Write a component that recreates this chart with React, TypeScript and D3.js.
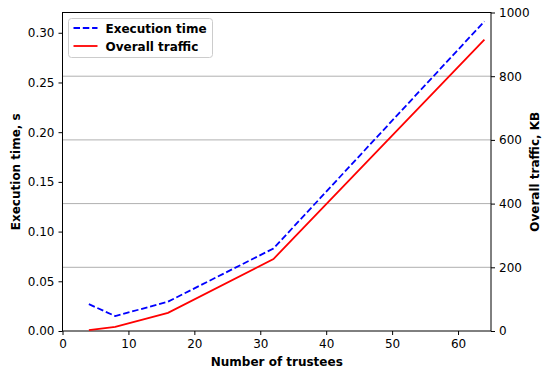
import React, { useEffect, useRef } from 'react';
import * as d3 from 'd3';

// trustees on the x axis
const trustees = [4, 8, 16, 32, 64];
// execution time, s (left axis)
const execTime = [0.027, 0.015, 0.0295, 0.083, 0.3115];
// overall traffic, KB (right axis)
const traffic = [3, 13, 57, 226, 915];

const xTicks = [0, 10, 20, 30, 40, 50, 60];
const leftTicks = [0, 0.05, 0.1, 0.15, 0.2, 0.25, 0.3];
const rightTicks = [0, 200, 400, 600, 800, 1000];

const W = 542;
const H = 372;
const margin = { left: 62.5, right: 51, top: 12.5, bottom: 41 };
const font = 'DejaVu Sans, sans-serif';

const App = () => {
    const ref = useRef<SVGSVGElement>(null);

    useEffect(() => {
        const svg = d3.select(ref.current);
        svg.selectAll('*').remove();

        const x0 = margin.left;
        const x1 = W - margin.right;
        const y0 = H - margin.bottom;
        const y1 = margin.top;

        const x = d3.scaleLinear().domain([0, 65]).range([x0, x1]);
        const yL = d3.scaleLinear().domain([0, 0.3204]).range([y0, y1]);
        const yR = d3.scaleLinear().domain([0, 1000]).range([y0, y1]);

        // grid from the right axis
        svg.append('g')
            .selectAll('line')
            .data(rightTicks.slice(1, -1))
            .join('line')
            .attr('x1', x0).attr('x2', x1)
            .attr('y1', d => yR(d)).attr('y2', d => yR(d))
            .attr('stroke', '#b0b0b0').attr('stroke-width', 1);

        const styleAxis = (g: any) => {
            g.select('.domain').remove();
            g.selectAll('text').attr('font-family', font).attr('font-size', 12).attr('fill', '#000');
            g.selectAll('line').attr('stroke', '#000').attr('stroke-width', 1);
        };

        svg.append('g')
            .attr('transform', `translate(0,${y0})`)
            .call(d3.axisBottom(x).tickValues(xTicks).tickFormat(d3.format('d')).tickSize(4).tickPadding(4))
            .call(styleAxis);

        svg.append('g')
            .attr('transform', `translate(${x0},0)`)
            .call(d3.axisLeft(yL).tickValues(leftTicks).tickFormat(d3.format('.2f')).tickSize(4).tickPadding(4))
            .call(styleAxis);

        svg.append('g')
            .attr('transform', `translate(${x1},0)`)
            .call(d3.axisRight(yR).tickValues(rightTicks).tickFormat(d3.format('d')).tickSize(4).tickPadding(4))
            .call(styleAxis);

        // frame
        svg.append('rect')
            .attr('x', x0).attr('y', y1)
            .attr('width', x1 - x0).attr('height', y0 - y1)
            .attr('fill', 'none').attr('stroke', '#000').attr('stroke-width', 1);

        const lineExec = d3.line<number>()
            .x((d, i) => x(trustees[i]))
            .y(d => yL(d));
        const lineTraffic = d3.line<number>()
            .x((d, i) => x(trustees[i]))
            .y(d => yR(d));

        svg.append('path')
            .attr('d', lineExec(execTime))
            .attr('fill', 'none').attr('stroke', '#0000ff')
            .attr('stroke-width', 1.8).attr('stroke-dasharray', '6.5,2.8');

        svg.append('path')
            .attr('d', lineTraffic(traffic))
            .attr('fill', 'none').attr('stroke', '#ff0000')
            .attr('stroke-width', 1.8);

        // axis labels
        svg.append('text')
            .attr('x', (x0 + x1) / 2).attr('y', 366)
            .attr('text-anchor', 'middle')
            .attr('font-family', font).attr('font-size', 12).attr('font-weight', 'bold')
            .text('Number of trustees');

        svg.append('text')
            .attr('transform', `translate(20,${(y0 + y1) / 2}) rotate(-90)`)
            .attr('text-anchor', 'middle')
            .attr('font-family', font).attr('font-size', 12).attr('font-weight', 'bold')
            .text('Execution time, s');

        svg.append('text')
            .attr('transform', `translate(538.5,${(y0 + y1) / 2}) rotate(-90)`)
            .attr('text-anchor', 'middle')
            .attr('font-family', font).attr('font-size', 12).attr('font-weight', 'bold')
            .text('Overall traffic, KB');

        // legend
        const lg = svg.append('g').attr('transform', 'translate(68.5,18.5)');
        lg.append('rect')
            .attr('width', 144).attr('height', 39).attr('rx', 3)
            .attr('fill', '#fff').attr('fill-opacity', 0.8)
            .attr('stroke', '#cccccc').attr('stroke-width', 1);
        const items = [
            { label: 'Execution time', color: '#0000ff', dash: '6.5,2.8' },
            { label: 'Overall traffic', color: '#ff0000', dash: null },
        ];
        items.forEach((it, i) => {
            const cy = 9.5 + i * 18;
            lg.append('line')
                .attr('x1', 5).attr('x2', 29).attr('y1', cy).attr('y2', cy)
                .attr('stroke', it.color).attr('stroke-width', 1.8)
                .attr('stroke-dasharray', it.dash);
            lg.append('text')
                .attr('x', 37).attr('y', cy + 4.5)
                .attr('font-family', font).attr('font-size', 12).attr('font-weight', 'bold')
                .text(it.label);
        });
    }, []);

    return (
        <svg ref={ref} width={W} height={H} style={{ position: 'absolute', left: 0, top: 0, background: '#fff' }} />
    );
};

export default App;
